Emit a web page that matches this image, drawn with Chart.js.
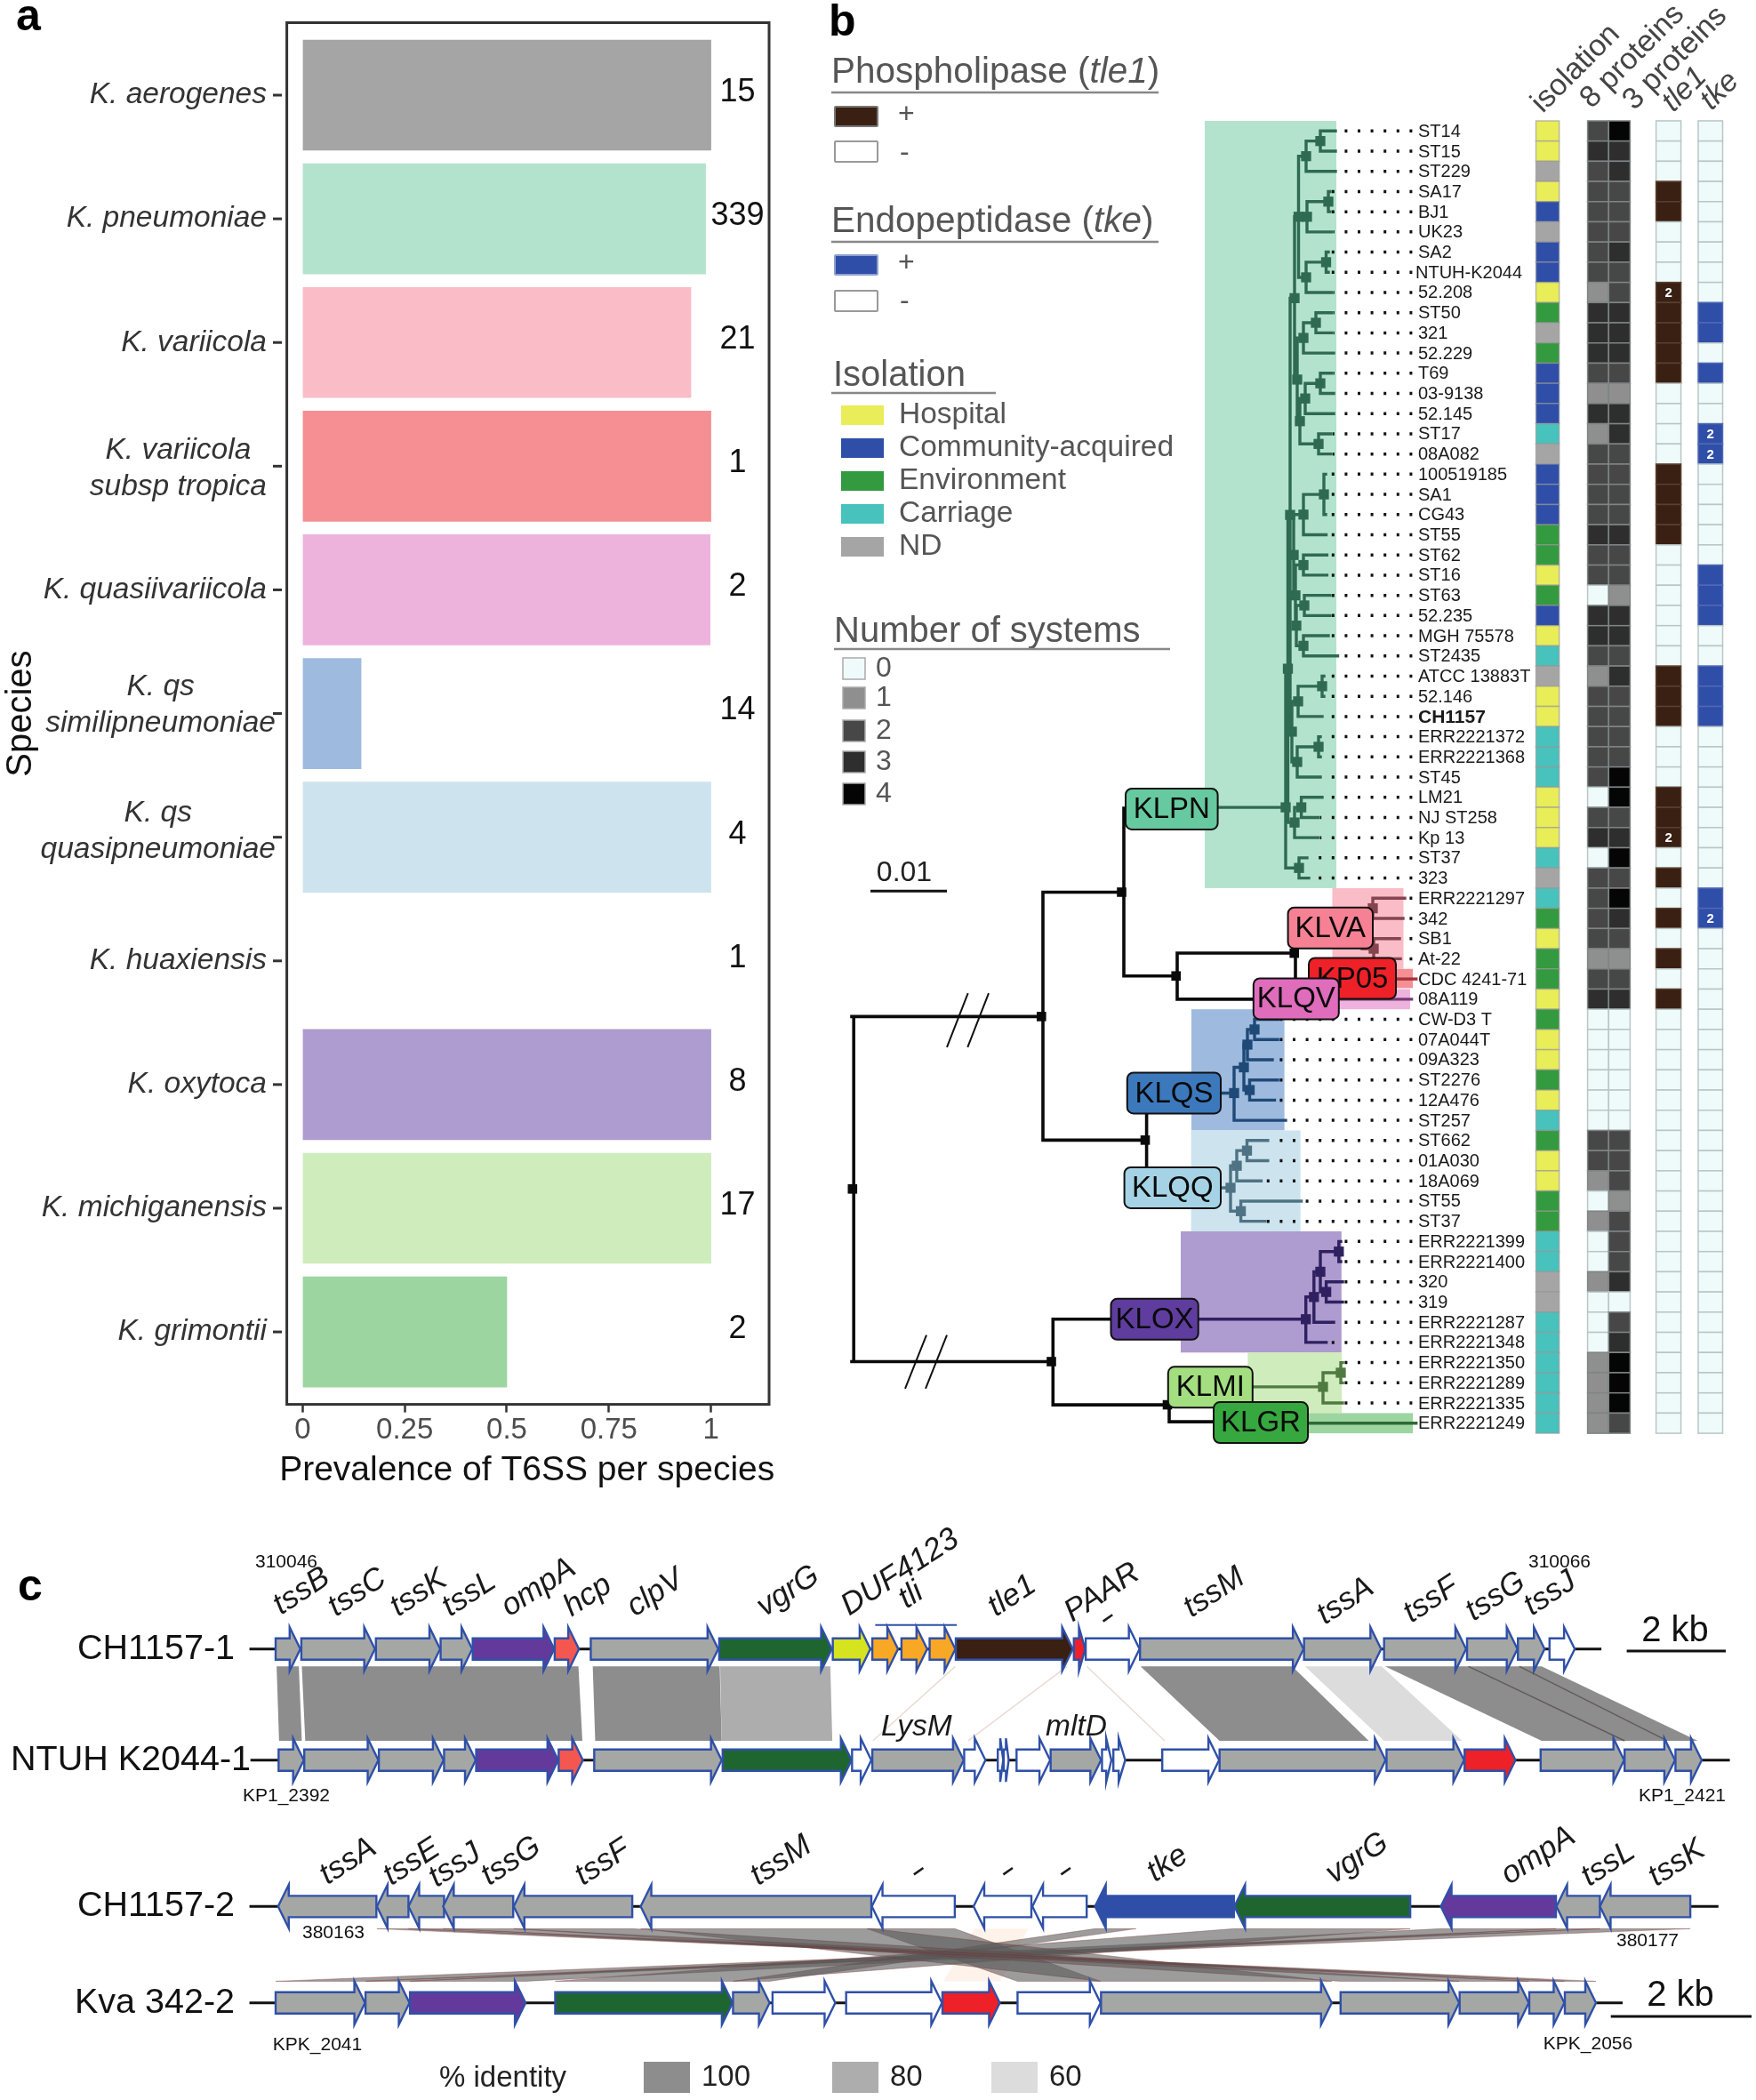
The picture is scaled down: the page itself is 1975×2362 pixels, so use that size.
<!DOCTYPE html>
<html>
<head>
<meta charset="utf-8">
<title>T6SS in Klebsiella</title>
<script src="https://cdn.jsdelivr.net/npm/chart.js@4/dist/chart.umd.js"></script>
<style>
  html, body { margin: 0; background: #fff; }
  #page { position: relative; width: 1975px; height: 2362px; overflow: hidden; }
  canvas { position: absolute; left: 0; top: 0; }
</style>
</head>
<body>
<div id="page">
  <canvas id="chartA" width="1975" height="2362"></canvas>
  <canvas id="chartB" width="1975" height="2362"></canvas>
  <canvas id="chartC" width="1975" height="2362"></canvas>
</div>
<script>
const FONT = '"Liberation Sans", Arial, sans-serif';

// ---- panel a ----
const speciesLabels = [['K. aerogenes'], ['K. pneumoniae'], ['K. variicola'], ['K. variicola', 'subsp tropica'],
  ['K. quasiivariicola'], ['K. qs', 'similipneumoniae'], ['K. qs', 'quasipneumoniae'], ['K. huaxiensis'],
  ['K. oxytoca'], ['K. michiganensis'], ['K. grimontii']];
const prevalence = [1, 0.987, 0.951, 1, 0.998, 0.143, 1, 0, 1, 1, 0.5];
const speciesCounts = [15, 339, 21, 1, 2, 14, 4, 1, 8, 17, 2];
const speciesColors = ['#a6a5a6', '#b4e3cd', '#fabcc6', '#f58f94', '#edb3dd', '#9ebade', '#cde4ef', '#ffffff', '#ae9bcf', '#cfecbc', '#9dd5a0'];
const prevalenceTicks = [0, 0.25, 0.5, 0.75, 1];

// ---- panel b: strains and heat map columns ----
const strainNames = ['ST14', 'ST15', 'ST229', 'SA17', 'BJ1', 'UK23', 'SA2', 'NTUH-K2044', '52.208', 'ST50',
  '321', '52.229', 'T69', '03-9138', '52.145', 'ST17', '08A082', '100519185', 'SA1', 'CG43',
  'ST55', 'ST62', 'ST16', 'ST63', '52.235', 'MGH 75578', 'ST2435', 'ATCC 13883T', '52.146', 'CH1157',
  'ERR2221372', 'ERR2221368', 'ST45', 'LM21', 'NJ ST258', 'Kp 13', 'ST37', '323', 'ERR2221297', '342',
  'SB1', 'At-22', 'CDC 4241-71', '08A119', 'CW-D3 T', '07A044T', '09A323', 'ST2276', '12A476', 'ST257',
  'ST662', '01A030', '18A069', 'ST55', 'ST37', 'ERR2221399', 'ERR2221400', '320', '319', 'ERR2221287',
  'ERR2221348', 'ERR2221350', 'ERR2221289', 'ERR2221335', 'ERR2221249'];
const isolation = ['H','H','N','H','C','N','C','C','H','E',
  'N','E','C','C','C','K','N','C','C','C',
  'E','E','H','E','C','H','K','N','H','H',
  'K','K','K','H','H','H','K','N','K','E',
  'H','E','E','H','E','H','H','E','H','K',
  'E','H','H','E','E','K','K','N','N','K',
  'K','K','K','K','K'];
const proteins8 = [2,3,2,2,2,2,2,2,1,3, 3,3,2,1,3,1,2,2,2,2, 3,2,2,0,3,3,2,1,2,2, 2,2,2,0,2,3,0,2,2,2, 2,1,2,3,0,0,0,0,0,0, 2,2,1,0,1,0,0,1,0,0, 0,1,1,1,1];
const proteins3 = [4,3,3,2,2,2,3,2,2,3, 3,3,2,1,3,3,2,2,2,2, 3,2,2,1,3,3,2,3,2,2, 2,2,4,4,2,3,4,2,4,3, 2,1,2,3,0,0,0,0,0,0, 2,2,2,1,2,2,2,3,0,2, 3,4,4,4,2];
const tle1Copies = [0,0,0,1,1,0,0,0,2,1, 1,1,1,0,0,0,0,1,1,1, 1,0,0,0,0,0,0,1,1,1, 0,0,0,1,1,2,0,1,0,1, 0,1,0,1,0,0,0,0,0,0, 0,0,0,0,0,0,0,0,0,0, 0,0,0,0,0];
const tkeCopies = [0,0,0,0,0,0,0,0,0,1, 1,0,1,0,0,2,2,0,0,0, 0,0,1,1,1,0,0,1,1,1, 0,0,0,0,0,0,0,0,1,2, 0,0,0,0,0,0,0,0,0,0, 0,0,0,0,0,0,0,0,0,0, 0,0,0,0,0];
const columnHeaders = ['isolation', '8 proteins', '3 proteins', 'tle1', 'tke'];
const isolationNames = ['Hospital', 'Community-acquired', 'Environment', 'Carriage', 'ND'];
const isolationKeys = ['H', 'C', 'E', 'K', 'N'];
const isolationColors = ['#e8ed58', '#2f4ea8', '#339a3f', '#48c2bc', '#a5a5a5'];
const systemLevels = [0, 1, 2, 3, 4];
const systemColors = ['#effafa', '#8f8f8f', '#474747', '#2e2e2e', '#050505'];

// ---- panel b: tree, [x, row] is a tip and [x, children, y?] a node ----
const c1 = [146.05, [[146.9, [[148.5, [[150.2, 0], [150.2, 1]]], [150.2, 2]]],
  [147.0, [[149.4, [[149.6, 3], [149.6, 4]]], [149.8, 5]]],
  [146.9, [[149.15, [[149.4, 6], [149.4, 7]]], [149.8, 8]]]]];
const c2 = [146.6, [[148.0, [[149.8, 9], [149.8, 10]]], [150.0, 11]]];
const c3 = [146.8, [[148.5, [[149.8, 12], [150.0, 13]]], [150.0, 14]]];
const c4 = [148.3, [[149.7, 15], [149.7, 16]]];
const c5 = [146.6, [[148.9, [[149.1, 17], [149.1, 18], [149.1, 19]]], [149.15, 20]]];
const c6 = [146.6, [[149.24, 21], [149.24, 22]]];
const c7 = [146.7, [[149.6, 23], [149.6, 24]]];
const c8 = [146.6, [[149.4, 25], [150.45, 26]]];
const c9 = [146.0, [[148.7, [[148.9, 27], [148.9, 28]]], [148.7, 29]]];
const c10 = [145.9, [[148.3, [[148.5, 30], [148.5, 31]]], [148.5, 32]]];
const c11 = [145.6, [[146.36, [[148.7, 33], [148.3, 34]]], [148.3, 35]]];
const c12 = [146.1, [[147.0, 36], [147.2, 37]]];
const klpnTree = [144.6, [[144.85, [[145.1, [[145.6, [c1, [145.9, [c2, [146.2, [c3, c4]]]]]],
  [145.5, [c5, [145.7, [c6, [145.8, [c7, c8]]]]]], [145.3, [c9, c10]]]], c11]], c12], 33.5];
const klvaTree = [153.2, [[154.4, [[158.0, 38], [157.8, 39]]], [154.5, [[157.4, 40], [157.5, 41]]]]];
const kp05Tree = [159.27, 42];
const klqvTree = [158.76, 43];
const klqsTree = [138.8, [[139.9, [[140.3, [[141.1, [[143.8, 44], [143.7, 45]]], [143.1, 46]]],
  [140.55, [[143.7, 47], [143.35, 48]]]]], [144.6, 49]], 47.65];
const klqqTree = [138.4, [[139.1, [[140.25, [[142.57, 50], [142.57, 51]]], [141.84, 52]]],
  [139.56, [[146.36, 53], [142.27, 54]]]], 52.34];
const kloxTree = [146.87, [[147.78, [[148.5, [[150.58, [[150.8, 55], [150.8, 56]]], [149.16, [[151, 57], [151, 58]]]]], [150, 59]]], [149.16, 60]], 58.85];
const klmiTree = [148.8, [[150.8, [[151, 61], [151, 62]]], [151, 63]], 62.2];
const klgrTree = [159.27, 64];

const cladeNames = ['KLPN', 'KLVA', 'KP05', 'KLQV', 'KLQS', 'KLQQ', 'KLOX', 'KLMI', 'KLGR'];
const cladeTrees = [klpnTree, klvaTree, kp05Tree, klqvTree, klqsTree, klqqTree, kloxTree, klmiTree, klgrTree];
const cladeLines = ['#2f6a52', '#85444f', '#a3333a', '#7a3a78', '#1f4a78', '#4f7384', '#2f2060', '#4f7a40', '#2e6a35'];
const cladeShades = ['#b4e3cd', '#fabcc6', '#f58f94', '#edb3dd', '#9ebade', '#cde4ef', '#ae9bcf', '#cfecbc', '#9dd5a0'];
const cladeBadges = ['#66c99f', '#f78194', '#ee2028', '#e06cbc', '#3c79bc', '#a5d3e5', '#5f3d9f', '#a3de80', '#36a83f'];
// x from, x to, first row, last row
const cladeBoxes = [[135.5, 150.3, -0.5, 37.5], [149.85, 157.85, 37.5, 41.5], [147.2, 158.9, 41.5, 42.45], [150.6, 158.6, 42.5, 43.5],
  [134, 144.46, 43.5, 49.5], [133.96, 146.27, 49.5, 54.5], [132.8, 150.88, 54.5, 60.5], [140.33, 150.92, 60.5, 63.5], [147.1, 158.9, 63.5, 64.5]];
// badge: x from, x to, row centre
const cladeBadgeSpans = [[126.6, 136.96, 33.58], [144.86, 154.4, 39.47], [147.2, 157, 41.97], [140.98, 150.58, 42.98],
  [126.78, 137.3, 47.65], [126.46, 137.3, 52.34], [124.95, 134.77, 58.85], [131.38, 140.88, 62.22], [136.5, 147.1, 63.97]];
const cladeStems = [136.96, null, 157, 150.58, 137.3, 137.3, 134.77, 140.88, 147.1];

// black backbone: x1, row1, x2, row2
const backbone = [[96.02, 43.86, 96.02, 60.95], [95.8, 43.86, 117.3, 43.86], [95.8, 60.95, 118.43, 60.95],
  [117.3, 37.7, 117.3, 49.98], [117.3, 37.7, 126.4, 37.7], [117.3, 49.98, 128.96, 49.98],
  [126.4, 33.54, 126.4, 41.85], [126.4, 33.54, 126.8, 33.54], [126.4, 41.85, 132.4, 41.85],
  [132.4, 40.72, 132.4, 43], [132.4, 40.72, 145.7, 40.72], [132.4, 43, 141, 43], [145.7, 40.45, 145.7, 41.98],
  [128.96, 48.69, 128.96, 51.29], [118.43, 58.85, 118.43, 63.09], [118.43, 58.85, 124.95, 58.85],
  [118.43, 63.09, 131.5, 63.09], [131.5, 62.6, 131.5, 63.93], [131.5, 63.93, 136.5, 63.93]];
const backboneNodes = [[95.88, 52.4], [117.13, 43.86], [126.15, 37.7], [132.27, 41.85], [145.57, 40.72], [128.8, 49.98], [118.25, 60.95], [131.3, 63.09]];
const treeBreaks = [[106.5, 45.38, 108.87, 42.7], [108.83, 45.38, 111.2, 42.7], [101.8, 62.29, 104.2, 59.63], [104.1, 62.29, 106.5, 59.63]];
const treeScaleBar = [97.9, 37.65, 106.5, 37.65];

// ---- panel c: genes in kb, [start, end, class] ----
const track1Genes = [[5.58,6.08,'g'],[6.10,7.59,'g'],[7.61,8.91,'g'],[8.92,9.56,'g'],[9.57,11.22,'p'],[11.23,11.72,'h'],
  [11.96,14.54,'g'],[14.56,16.84,'v'],[16.86,17.62,'y'],[17.66,18.18,'o'],[18.25,18.77,'o'],[18.82,19.34,'o'],
  [19.35,21.72,'b'],[21.74,21.97,'r'],[21.98,23.07,'w'],[23.08,26.39,'g'],[26.40,27.96,'g'],[28.02,29.68,'g'],
  [29.70,30.72,'g'],[30.73,31.27,'g'],[31.37,31.88,'w']];
const track2Genes = [[5.64,6.15,'g'],[6.16,7.66,'g'],[7.67,8.98,'g'],[8.99,9.63,'g'],[9.64,11.30,'p'],[11.31,11.80,'h'],
  [12.03,14.61,'g'],[14.63,17.24,'v'],[17.25,17.64,'w'],[17.66,19.51,'g'],[19.52,19.95,'w'],[20.20,20.31,'w'],[20.32,20.42,'w'],
  [20.58,21.26,'w'],[21.27,22.29,'g'],[22.31,22.50,'w'],[22.54,22.78,'w'],[23.53,24.68,'w'],[24.69,28.05,'g'],
  [28.07,29.64,'g'],[29.65,30.68,'r'],[31.19,32.88,'g'],[32.89,33.91,'g'],[33.92,34.45,'g']];
const track3Genes = [[5.63,7.62,'g'],[7.63,8.27,'g'],[8.27,8.99,'g'],[8.97,10.39,'g'],[10.40,12.80,'g'],[12.97,17.64,'g'],
  [17.65,19.33,'w'],[19.71,20.88,'w'],[20.90,22.00,'w'],[22.17,24.98,'t'],[24.99,28.55,'v'],[29.17,31.50,'p'],
  [31.51,32.39,'g'],[32.39,34.22,'g']];
const track4Genes = [[5.58,7.39,'g'],[7.40,8.29,'g'],[8.30,10.64,'p'],[11.24,14.83,'v'],[14.84,15.58,'g'],[15.64,16.91,'w'],
  [17.13,19.07,'w'],[19.08,20.24,'r'],[20.60,22.28,'w'],[22.29,26.96,'g'],[27.14,29.54,'g'],[29.55,30.95,'g'],
  [30.96,31.67,'g'],[31.68,32.31,'g']];
const trackGenes = [track1Genes, track2Genes, track3Genes, track4Genes];
const trackNames = ['CH1157-1', 'NTUH K2044-1', 'CH1157-2', 'Kva 342-2'];
const trackStrand = [1, 1, -1, 1];
const trackLane = [0, 1, 2.317, 3.184];
const trackSpans = [[5.05, 32.42], [5.07, 35.02], [5.05, 34.79], [5.05, 32.85]];
const geneColors = { g: '#a5a7a5', p: '#633a9c', h: '#f4574f', v: '#1f6530', y: '#d6e31f', o: '#f9a825', b: '#3a2012', r: '#ee2028', w: '#ffffff', t: '#2f4ea8' };
// top start, top end, bottom start, bottom end, % identity
const ribbons12 = [[5.60,6.05,5.65,6.11,100],[6.11,11.71,6.18,11.79,100],[12.00,14.57,12.05,14.61,100],[14.58,16.81,14.61,16.85,80],
  [23.09,26.16,24.69,27.71,100],[26.42,27.97,28.02,29.60,60],[28.04,31.21,31.21,34.37,100]];
const ribbons34 = [[19.73,20.82,19.10,20.25,0],[32.39,34.22,5.58,7.39,100],[31.51,32.39,7.40,8.29,100],[29.17,31.50,8.30,10.64,100],
  [24.99,28.55,11.24,14.83,100],[22.17,23.0,14.84,15.58,100],[17.55,19.33,20.60,22.28,100],[12.97,17.64,22.29,26.96,100],
  [10.40,12.80,27.14,29.54,100],[8.97,10.39,29.55,30.95,100],[8.27,8.99,30.96,31.67,100],[7.63,8.27,31.68,32.31,100]];
const identityLevels = [100, 80, 60];
const identityColors = { 100: '#8e8d8e', 80: '#aeadae', 60: '#dcdcdc' };
const faintLinks = [[19.34, 17.67], [21.6, 19.6], [22.0, 23.58]];
const darkLinks = [[29.73, 32.89], [30.76, 33.75]];
// gene name, kb, offset from the track
const track1Labels = [['tssB',5.6,-38],['tssC',6.71,-36],['tssK',7.97,-36],['tssL',9.02,-36],['ompA',10.22,-36],['hcp',11.48,-36],
  ['clpV',12.76,-36],['vgrG',15.39,-36],['DUF4123',17.1,-37],['tli',18.26,-45],['tle1',20.07,-36],['PAAR',21.62,-30],
  ['tssM',24.03,-35],['tssA',26.73,-27],['tssF',28.48,-29],['tssG',29.74,-31],['tssJ',30.92,-37]];
const track3Labels = [['tssA',6.54,-26],['tssE',7.83,-25],['tssJ',8.75,-23],['tssG',9.81,-25],['tssF',11.71,-25],['tssM',15.26,-25],
  ['tke',23.29,-29],['vgrG',26.91,-27],['ompA',30.46,-26],['tssL',32.08,-24],['tssK',33.44,-24]];
const dashLabels = [[22.5, 0, -29], [18.67, 2, -34], [20.48, 2, -34], [21.65, 2, -34]];

// ---- small drawing helpers ----
function put(ctx, str, x, y, font, color, align, angle) {
  ctx.save();
  ctx.translate(x, y);
  if (angle) ctx.rotate(-angle * Math.PI / 180);
  ctx.font = font;
  ctx.fillStyle = color;
  ctx.textAlign = align || 'left';
  ctx.textBaseline = angle ? 'alphabetic' : 'middle';
  ctx.fillText(str, 0, 0);
  ctx.restore();
}
function roundBox(ctx, x1, y1, x2, y2, r, fill, stroke) {
  ctx.beginPath();
  ctx.roundRect(x1, y1, x2 - x1, y2 - y1, r);
  ctx.fillStyle = fill;
  ctx.fill();
  ctx.lineWidth = 2;
  ctx.strokeStyle = stroke;
  ctx.stroke();
}
function headingWithItalic(ctx, a, b, c, x, y, size, color) {
  ctx.save();
  ctx.textBaseline = 'middle';
  ctx.fillStyle = color;
  ctx.font = size + 'px ' + FONT;
  ctx.fillText(a, x, y);
  let px = x + ctx.measureText(a).width;
  ctx.font = 'italic ' + size + 'px ' + FONT;
  ctx.fillText(b, px, y);
  px += ctx.measureText(b).width;
  ctx.font = size + 'px ' + FONT;
  ctx.fillText(c, px, y);
  ctx.restore();
}
function hline(ctx, x1, x2, y, w, color) {
  ctx.beginPath();
  ctx.moveTo(x1, y);
  ctx.lineTo(x2, y);
  ctx.lineWidth = w;
  ctx.strokeStyle = color;
  ctx.stroke();
}
function segmentsToPoints(list) {
  const pts = [];
  list.forEach(s => pts.push({ x: s[0], y: s[1] }, { x: s[2], y: s[3] }, { x: null, y: null }));
  return pts;
}
function walkTree(node, segs, marks, tips) {
  const [x, kids, fixedY] = node;
  if (typeof kids === 'number') {
    tips.push({ x: x, row: kids });
    return kids;
  }
  const ys = kids.map(k => {
    const y = walkTree(k, segs, marks, tips);
    segs.push([x, y, k[0], y]);
    return y;
  });
  const y = fixedY !== undefined ? fixedY : (ys[0] + ys[ys.length - 1]) / 2;
  segs.push([x, ys[0], x, ys[ys.length - 1]]);
  marks.push({ x: x, y: y });
  return y;
}

// ---- panel a chart ----
const panelA = {
  id: 'panelA',
  afterDraw(chart) {
    const { ctx, chartArea: a, scales: { x, y } } = chart;
    ctx.save();
    ctx.strokeStyle = '#333';
    ctx.lineWidth = 3;
    ctx.strokeRect(a.left, a.top, a.width, a.height);
    // tick dashes stand off the frame and the wrapped names are centred on themselves
    const nudge = [0, 0, 0, 3, 0, -9.5, -6, 0, 0, 0, 0];
    const font = 'italic 33.5px ' + FONT;
    speciesLabels.forEach((lines, i) => {
      const py = y.getPixelForValue(i);
      hline(ctx, 307, 317, py, 3, '#333');
      if (lines.length === 1) {
        put(ctx, lines[0], 300, py, font, '#333', 'right');
      } else {
        ctx.font = font;
        const w = ctx.measureText(lines[1]).width;
        const mid = (w > 230 ? 310 : 300) - w / 2;
        put(ctx, lines[0], mid, py + nudge[i] - 20.5, font, '#333', 'center');
        put(ctx, lines[1], mid, py + nudge[i] + 20.5, font, '#333', 'center');
      }
      put(ctx, String(speciesCounts[i]), x.getPixelForValue(1.065), py - 3, '36px ' + FONT, '#111', 'center');
    });
    // wider than the frame, the axis title option would squeeze it to fit
    put(ctx, 'Prevalence of T6SS per species', 592.7, 1654, '39px ' + FONT, '#111', 'center');
    put(ctx, 'a', 18, 20, 'bold 50px ' + FONT, '#000');
    ctx.restore();
  }
};
new Chart(document.getElementById('chartA'), {
  type: 'bar',
  data: { datasets: [{
    data: prevalence.map((v, i) => ({ x: v, y: i })),
    backgroundColor: speciesColors,
    barThickness: 124
  }] },
  plugins: [panelA],
  options: {
    indexAxis: 'y',
    responsive: false,
    devicePixelRatio: 1,
    animation: false,
    events: [],
    layout: { padding: { left: 0, top: 25.5, right: 1110, bottom: 684 } },
    plugins: { legend: { display: false }, tooltip: { enabled: false } },
    scales: {
      x: {
        type: 'linear', min: -0.0388, max: 1.1425,
        afterBuildTicks: s => { s.ticks = prevalenceTicks.map(v => ({ value: v })); },
        afterFit: s => { s.height = 98.4; },
        grid: { drawOnChartArea: false, tickLength: 9, tickColor: '#333', tickWidth: 2.5 },
        border: { display: false },
        ticks: { color: '#4d4d4d', font: { family: FONT, size: 33 }, padding: 1, maxRotation: 0, callback: v => String(v) }
      },
      y: {
        type: 'linear', reverse: true, min: -0.586, max: 10.586, offset: false,
        afterFit: s => { s.width = 322.6; },
        grid: { display: false, offset: false },
        border: { display: false },
        ticks: { display: false },
        title: { display: true, text: 'Species', color: '#111', font: { family: FONT, size: 40 }, padding: 0 }
      }
    }
  }
});

// ---- panel b chart ----
const treeSets = cladeTrees.map((t, i) => {
  const segs = [], marks = [], tips = [];
  const rootY = walkTree(t, segs, marks, tips);
  if (cladeStems[i] !== null) segs.push([cladeStems[i], rootY, t[0], rootY]);
  return { segs, marks, tips };
});
const dottedTips = treeSets.flatMap(t => t.tips).filter(t => t.x < 158.6).map(t => [158.84, t.row, t.x + 0.2, t.row]);

const panelB = {
  id: 'panelB',
  beforeDatasetsDraw(chart) {
    const { ctx, scales: { x, y } } = chart;
    ctx.save();
    cladeBoxes.forEach((b, i) => {
      ctx.fillStyle = cladeShades[i];
      ctx.fillRect(x.getPixelForValue(b[0]), y.getPixelForValue(b[2]), x.getPixelForValue(b[1]) - x.getPixelForValue(b[0]), y.getPixelForValue(b[3]) - y.getPixelForValue(b[2]));
    });
    ctx.restore();
  },
  afterDatasetsDraw(chart) {
    const { ctx, scales: { x, y } } = chart;
    ctx.save();
    // clade badges
    cladeNames.forEach((name, i) => {
      const s = cladeBadgeSpans[i], c = y.getPixelForValue(s[2]);
      const x1 = x.getPixelForValue(s[0]), x2 = x.getPixelForValue(s[1]);
      roundBox(ctx, x1, c - 23, x2, c + 23, 7, cladeBadges[i], '#111');
      put(ctx, name, (x1 + x2) / 2, c + 1, '33px ' + FONT, '#0a0a0a', 'center');
    });
    // strain names
    strainNames.forEach((n, r) => {
      const bold = n === 'CH1157';
      const left = n === 'NTUH-K2044' ? 159.2 : 159.5;
      put(ctx, n, x.getPixelForValue(left), y.getPixelForValue(r) + 1, (bold ? 'bold 21px ' : '20px ') + FONT, '#1a1a1a');
    });
    // heat map
    const cell = (x1, x2, r, fill, stroke, num) => {
      const l = x.getPixelForValue(x1), w = x.getPixelForValue(x2) - l;
      const t = y.getPixelForValue(r - 0.5), h = y.getPixelForValue(r + 0.5) - t;
      ctx.fillStyle = fill;
      ctx.fillRect(l, t, w, h);
      ctx.lineWidth = 1.5;
      ctx.strokeStyle = stroke;
      ctx.strokeRect(l, t, w, h);
      if (num) put(ctx, String(num), l + w / 2, t + h / 2 + 1, 'bold 15px ' + FONT, '#fff', 'center');
    };
    const sysEdge = lv => lv ? '#7f8484' : '#b9c6c6';
    strainNames.forEach((n, r) => {
      const iso = isolationColors[isolationKeys.indexOf(isolation[r])];
      cell(172.75, 175.37, r, iso, 'rgba(150,150,150,0.6)');
      cell(178.56, 180.93, r, systemColors[proteins8[r]], sysEdge(proteins8[r]));
      cell(180.93, 183.34, r, systemColors[proteins3[r]], sysEdge(proteins3[r]));
      cell(186.26, 189.06, r, tle1Copies[r] ? '#3a2012' : '#effafa', tle1Copies[r] ? '#5a4030' : '#b9c6c6', tle1Copies[r] === 2 ? 2 : 0);
      cell(191, 193.75, r, tkeCopies[r] ? '#2f4ea8' : '#effafa', tkeCopies[r] ? '#5069b5' : '#b9c6c6', tkeCopies[r] === 2 ? 2 : 0);
    });
    // column headers
    const heads = [[1735, 128], [1790, 123], [1838, 125], [1882, 127], [1925, 125]];
    columnHeaders.forEach((h, i) => {
      const italic = i > 2 ? 'italic ' : '';
      put(ctx, h, heads[i][0], heads[i][1], italic + '34px ' + FONT, '#444', 'left', 45);
    });
    // scale bar text and panel letter
    put(ctx, '0.01', x.getPixelForValue(101.7), y.getPixelForValue(36.75), '32px ' + FONT, '#222', 'center');
    put(ctx, 'b', 932, 26, 'bold 50px ' + FONT, '#000');
    // legends
    const gray = '#555';
    headingWithItalic(ctx, 'Phospholipase (', 'tle1', ')', 935, 82, 40.5, gray);
    hline(ctx, 935, 1303, 104, 2.5, '#888');
    roundBox(ctx, 939, 120, 987, 142, 1, '#3a2012', '#777');
    put(ctx, '+', 1010, 129, '32px ' + FONT, gray);
    roundBox(ctx, 939, 159, 987, 182, 1, '#fff', '#999');
    put(ctx, '-', 1012, 172, '32px ' + FONT, gray);
    headingWithItalic(ctx, 'Endopeptidase (', 'tke', ')', 935, 250, 40.5, gray);
    hline(ctx, 935, 1303, 272, 2.5, '#888');
    roundBox(ctx, 939, 287, 987, 309, 1, '#2f4ea8', '#8ea0d0');
    put(ctx, '+', 1010, 296, '32px ' + FONT, gray);
    roundBox(ctx, 939, 327, 987, 350, 1, '#fff', '#999');
    put(ctx, '-', 1012, 339, '32px ' + FONT, gray);
    put(ctx, 'Isolation', 937, 423, '40px ' + FONT, gray);
    hline(ctx, 935, 1120, 442, 2.5, '#888');
    isolationNames.forEach((n, i) => {
      const c = 467 + i * 37;
      ctx.fillStyle = isolationColors[i];
      ctx.fillRect(946, c - 11, 48, 22);
      put(ctx, n, 1011, c, '33.5px ' + FONT, gray);
    });
    put(ctx, 'Number of systems', 938, 711, '40px ' + FONT, gray);
    hline(ctx, 938, 1316, 730, 2.5, '#888');
    const legY = [752, 785, 822, 857, 893];
    systemLevels.forEach((lv, i) => {
      ctx.fillStyle = systemColors[i];
      ctx.fillRect(948, legY[i] - 12, 25, 24);
      ctx.strokeStyle = '#aaa';
      ctx.lineWidth = 1.5;
      ctx.strokeRect(948, legY[i] - 12, 25, 24);
      put(ctx, String(lv), 985, legY[i], '32px ' + FONT, gray);
    });
    ctx.restore();
  }
};
const lineSet = (pts, color, width, extra) => Object.assign({ data: pts, showLine: true, borderColor: color, borderWidth: width, pointRadius: 0, borderCapStyle: 'butt' }, extra || {});
new Chart(document.getElementById('chartB'), {
  type: 'scatter',
  data: { datasets: [
    lineSet(segmentsToPoints(dottedTips), '#111', 3.5, { borderDash: [3, 11.6] }),
    ...treeSets.map((t, i) => lineSet(segmentsToPoints(t.segs), cladeLines[i], 3.4, { borderCapStyle: 'square' })),
    ...treeSets.map((t, i) => ({ data: t.marks, pointStyle: 'rect', pointRadius: 8, backgroundColor: cladeLines[i], borderWidth: 0 })),
    lineSet(segmentsToPoints(backbone), '#0a0a0a', 3.6, { borderCapStyle: 'square' }),
    { data: backboneNodes.map(n => ({ x: n[0], y: n[1] })), pointStyle: 'rect', pointRadius: 7.5, backgroundColor: '#0a0a0a', borderWidth: 0 },
    lineSet(segmentsToPoints(treeBreaks), '#111', 2),
    lineSet(segmentsToPoints([treeScaleBar]), '#111', 3)
  ] },
  plugins: [panelB],
  options: {
    responsive: false,
    devicePixelRatio: 1,
    animation: false,
    events: [],
    layout: { autoPadding: false },
    plugins: { legend: { display: false }, tooltip: { enabled: false } },
    scales: {
      x: { type: 'linear', display: false, min: 0, max: 197.5 },
      y: { type: 'linear', display: false, reverse: true, min: -6.486, max: 97.52 }
    }
  }
});

// ---- panel c chart ----
const panelC = {
  id: 'panelC',
  beforeDatasetsDraw(chart) {
    const { ctx, scales: { x, y } } = chart;
    ctx.save();
    const quad = (r, top, bottom) => {
      ctx.beginPath();
      ctx.moveTo(x.getPixelForValue(r[0]), top);
      ctx.lineTo(x.getPixelForValue(r[1]), top);
      ctx.lineTo(x.getPixelForValue(r[3]), bottom);
      ctx.lineTo(x.getPixelForValue(r[2]), bottom);
      ctx.closePath();
    };
    const link = (l, top, bottom, color) => {
      ctx.beginPath();
      ctx.moveTo(x.getPixelForValue(l[0]), top);
      ctx.lineTo(x.getPixelForValue(l[1]), bottom);
      ctx.lineWidth = 1.5;
      ctx.strokeStyle = color;
      ctx.stroke();
    };
    const t12 = y.getPixelForValue(0.157), b12 = y.getPixelForValue(0.826);
    ribbons12.forEach(r => {
      quad(r, t12, b12);
      ctx.fillStyle = identityColors[r[4]];
      ctx.fill();
    });
    faintLinks.forEach(l => link(l, t12, b12, '#eadbd4'));
    darkLinks.forEach(l => link(l, t12, b12, '#625c5c'));
    const t34 = y.getPixelForValue(2.517), b34 = y.getPixelForValue(2.99);
    ribbons34.forEach(r => {
      quad(r, t34, b34);
      ctx.fillStyle = r[4] ? 'rgba(90,90,90,0.6)' : '#fdf3ea';
      ctx.fill();
      if (r[4]) {
        ctx.lineWidth = 1;
        ctx.strokeStyle = 'rgba(120,50,50,0.35)';
        ctx.stroke();
      }
    });
    ctx.restore();
  },
  afterDatasetsDraw(chart) {
    const { ctx, scales: { x, y } } = chart;
    ctx.save();
    trackGenes.forEach((genes, t) => {
      const c = y.getPixelForValue(trackLane[t]);
      const dir = trackStrand[t];
      genes.forEach(g => {
        const a = x.getPixelForValue(dir > 0 ? g[0] : g[1]);
        const b = x.getPixelForValue(dir > 0 ? g[1] : g[0]);
        const head = dir * Math.min(12, Math.abs(b - a) * 0.55);
        ctx.beginPath();
        ctx.moveTo(a, c - 12);
        ctx.lineTo(b - head, c - 12);
        ctx.lineTo(b - head, c - 24.5);
        ctx.lineTo(b, c);
        ctx.lineTo(b - head, c + 24.5);
        ctx.lineTo(b - head, c + 12);
        ctx.lineTo(a, c + 12);
        ctx.closePath();
        ctx.fillStyle = geneColors[g[2]];
        ctx.fill();
        ctx.lineWidth = 2.4;
        ctx.strokeStyle = '#2f50a8';
        ctx.lineJoin = 'miter';
        ctx.stroke();
      });
      put(ctx, trackNames[t], t === 1 ? 282 : 264, c, '39.5px ' + FONT, '#111', 'right');
    });
    const c1y = y.getPixelForValue(trackLane[0]), c2y = y.getPixelForValue(trackLane[1]);
    const c3y = y.getPixelForValue(trackLane[2]);
    const geneFont = 'italic 35px ' + FONT;
    track1Labels.forEach(l => put(ctx, l[0], x.getPixelForValue(l[1]) + 5, c1y + l[2], geneFont, '#1a1a1a', 'left', 33));
    track3Labels.forEach(l => put(ctx, l[0], x.getPixelForValue(l[1]) + 5, c3y + l[2] + 2, geneFont, '#1a1a1a', 'left', 33));
    dashLabels.forEach(d => put(ctx, '–', x.getPixelForValue(d[0]), y.getPixelForValue(trackLane[d[1]]) + d[2], 'bold 26px ' + FONT, '#1a1a1a', 'center', 35));
    put(ctx, 'LysM', x.getPixelForValue(17.84), c2y - 37, 'italic 33.5px ' + FONT, '#1a1a1a');
    put(ctx, 'mltD', x.getPixelForValue(21.17), c2y - 37, 'italic 33.5px ' + FONT, '#1a1a1a');
    hline(ctx, x.getPixelForValue(17.72), x.getPixelForValue(19.37), c1y - 27, 2, '#2f50a8');

    const small = '21px ' + FONT;
    put(ctx, '310046', 322, 1757, small, '#111', 'center');
    put(ctx, '310066', 1754, 1757, small, '#111', 'center');
    put(ctx, 'KP1_2392', 322, 2020, small, '#111', 'center');
    put(ctx, 'KP1_2421', 1892, 2020, small, '#111', 'center');
    put(ctx, '380163', 375, 2174, small, '#111', 'center');
    put(ctx, '380177', 1853, 2183, small, '#111', 'center');
    put(ctx, 'KPK_2041', 357, 2300, small, '#111', 'center');
    put(ctx, 'KPK_2056', 1786, 2299, small, '#111', 'center');
    put(ctx, '2 kb', 1884, 1835, '40px ' + FONT, '#111', 'center');
    hline(ctx, 1829.6, 1941, 1857, 3, '#111');
    put(ctx, '2 kb', 1890, 2245, '40px ' + FONT, '#111', 'center');
    hline(ctx, 1811.7, 1970, 2268, 3, '#111');
    put(ctx, 'c', 20, 1786, 'bold 50px ' + FONT, '#000');
    // identity key
    put(ctx, '% identity', 494, 2338, '33px ' + FONT, '#222');
    const keyX = [724, 936, 1115];
    identityLevels.forEach((lv, i) => {
      ctx.fillStyle = identityColors[lv];
      ctx.fillRect(keyX[i], 2319, 52, 35);
      put(ctx, String(lv), keyX[i] + 65, 2337, '33px ' + FONT, '#222');
    });
    ctx.restore();
  }
};
new Chart(document.getElementById('chartC'), {
  type: 'scatter',
  data: { datasets: [
    lineSet(segmentsToPoints(trackSpans.map((s, i) => [s[0], trackLane[i], s[1], trackLane[i]])), '#111', 3)
  ] },
  plugins: [panelC],
  options: {
    responsive: false,
    devicePixelRatio: 1,
    animation: false,
    events: [],
    layout: { autoPadding: false },
    plugins: { legend: { display: false }, tooltip: { enabled: false } },
    scales: {
      x: { type: 'linear', display: false, min: 0, max: 35.55 },
      y: { type: 'linear', display: false, reverse: true, min: -14.8376, max: 4.0584 }
    }
  }
});
</script>
</body>
</html>
